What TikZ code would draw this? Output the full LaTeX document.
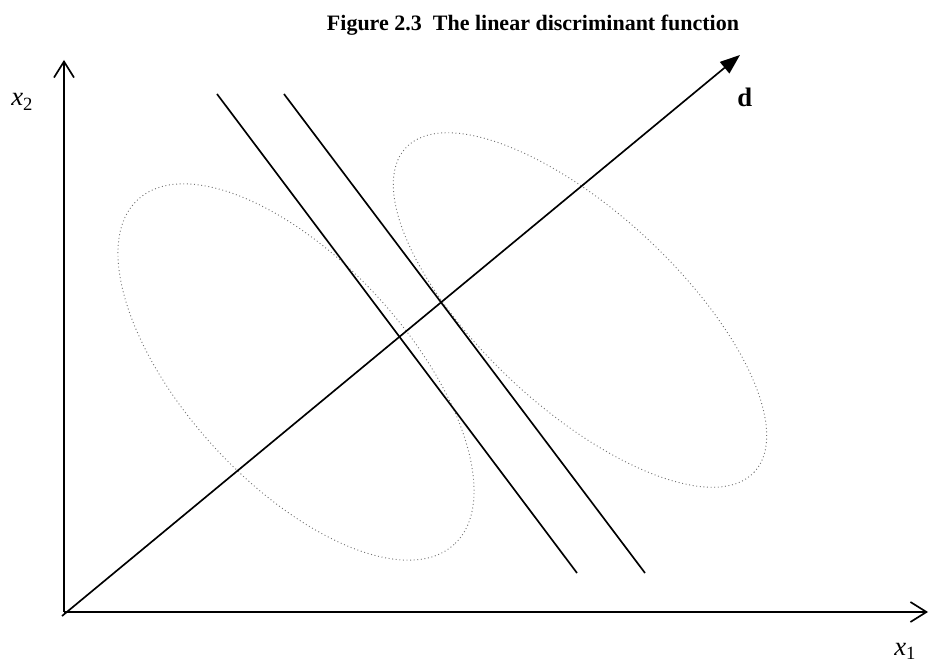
\documentclass[tikz,border=0pt]{standalone}
\usepackage{fontspec}
\setmainfont{Liberation Serif}
\usetikzlibrary{arrows.meta}
\begin{document}
\begin{tikzpicture}[x=0.75pt,y=-0.75pt, every node/.style={font=\fontsize{20}{24}\selectfont, inner sep=0pt},
  axis/.style={line width=1.25pt, -{Straight Barb[length=12pt,width=15pt]}},
  boundary/.style={line width=1.25pt},
  cluster/.style={draw=black!55, dotted, line width=0.7pt}]
\useasboundingbox (0,0) rectangle (929,663);
\node[anchor=base, font=\fontsize{16.5}{20}\selectfont\bfseries] (title) at (533,31) {Figure 2.3\ \ The linear discriminant function};
% axes
\coordinate (O) at (64,612);
\coordinate (xend) at (928,612);
\coordinate (yend) at (64,60);
\draw[axis] (O) -- (xend);
\draw[axis] (O) -- (yend);
\node[anchor=base west] (x1) at (894,655) {\textit{x}\textsubscript{1}};
\node[anchor=base west] (x2) at (11,106) {\textit{x}\textsubscript{2}};
% two classes
\draw[cluster, rotate around={-47.5:(296,372)}] (296,372) ellipse [x radius=234, y radius=111];
\draw[cluster, rotate around={-42.9:(580,310)}] (580,310) ellipse [x radius=238, y radius=98];
% direction d
\coordinate (dstart) at (62,616);
\coordinate (dend) at (740,55);
\draw[line width=1.25pt, -{Triangle[length=15pt,width=11pt]}] (dstart) -- (dend);
\node[anchor=base west, font=\fontsize{20}{24}\selectfont\bfseries] (dlabel) at (737,107) {d};
% discriminant lines
\coordinate (a1) at (217,94);
\coordinate (a2) at (577,573);
\coordinate (b1) at (284,94);
\coordinate (b2) at (645,573);
\draw[boundary] (a1) -- (a2);
\draw[boundary] (b1) -- (b2);
\end{tikzpicture}
\end{document}
